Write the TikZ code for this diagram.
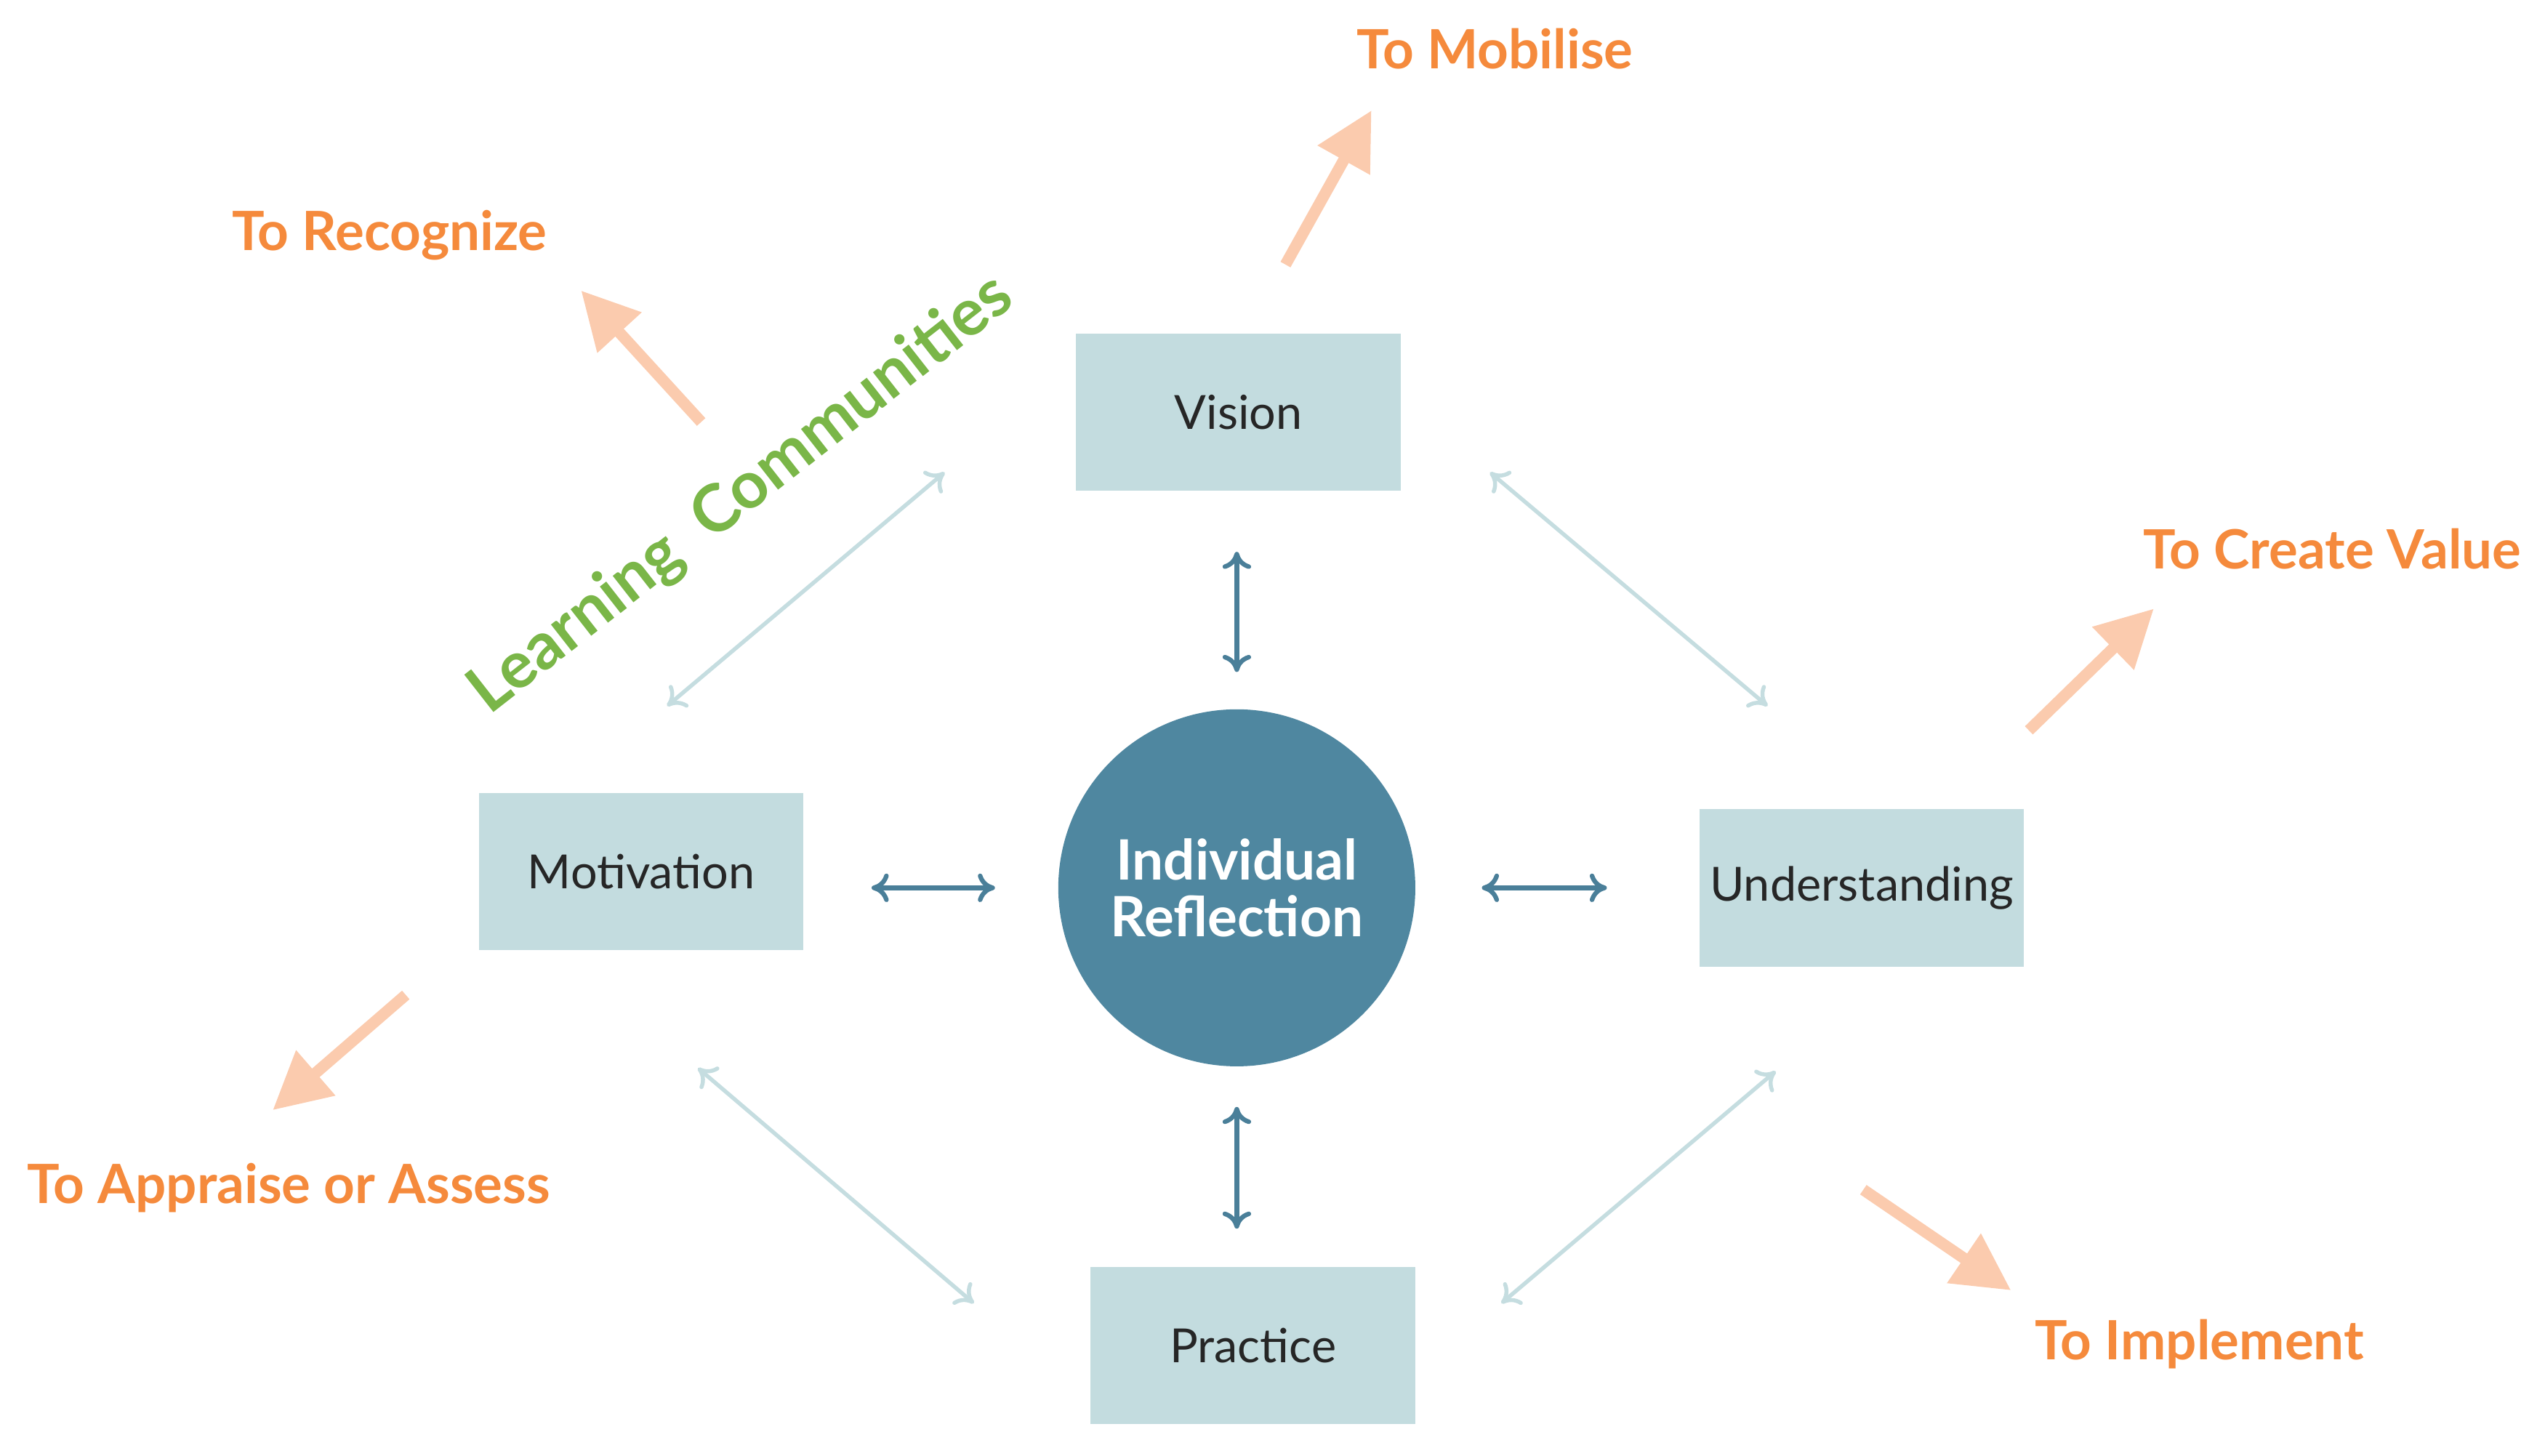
\documentclass[tikz,border=0pt]{standalone}
\usepackage{fontspec}
\setmainfont{Lato}
\usetikzlibrary{arrows.meta}
\definecolor{boxc}{HTML}{C3DCDF}
\definecolor{circc}{HTML}{4F87A0}
\definecolor{darka}{HTML}{4A7F99}
\definecolor{lighta}{HTML}{C5DDE0}
\definecolor{orar}{HTML}{FBCBAE}
\definecolor{orat}{HTML}{F58A3C}
\definecolor{grn}{HTML}{7AB648}
\begin{document}
\begin{tikzpicture}[x=0.02cm,y=-0.02cm,
 box/.style={fill=boxc,minimum width=4cm,minimum height=1.94cm,font=\fontsize{16.5}{18}\selectfont,text=black!85},
 dark/.style={draw=darka,line width=1.6pt,{To[length=6pt,width=10pt]}-{To[length=6pt,width=10pt]}},
 light/.style={draw=lighta,line width=1.4pt,{To[length=6pt,width=10pt]}-{To[length=6pt,width=10pt]}},
 oarr/.style={draw=orar,line width=4pt,-{Triangle[length=20pt,width=20pt]}},
 otext/.style={text=orat,font=\bfseries\fontsize{19}{22}\selectfont}]
\useasboundingbox (0,0) rectangle (1568,897);
\node[box] (vis) at (763,254) {Vision};
\node[box] (mot) at (395,537) {Motivation};
\node[box] (und) at (1147,547) {Understanding};
\node[box] (pra) at (772,829) {Practice};
\node[circle,fill=circc,minimum size=4.4cm,text=white,align=center,font=\bfseries\fontsize{19.5}{20}\selectfont] (ir) at (762,547) {Individual\\Reflection};
\coordinate (d1a) at (762,340); \coordinate (d1b) at (762,414);
\coordinate (d2a) at (762,682); \coordinate (d2b) at (762,757);
\coordinate (d3a) at (537,547); \coordinate (d3b) at (613,547);
\coordinate (d4a) at (913,547); \coordinate (d4b) at (990,547);
\draw[dark] (d1a) -- (d1b); \draw[dark] (d2a) -- (d2b);
\draw[dark] (d3a) -- (d3b); \draw[dark] (d4a) -- (d4b);
\coordinate (l1a) at (582,291); \coordinate (l1b) at (411,435);
\coordinate (l2a) at (918,291); \coordinate (l2b) at (1089,435);
\coordinate (l3a) at (430,658); \coordinate (l3b) at (600,803);
\coordinate (l4a) at (1094,660); \coordinate (l4b) at (925,803);
\draw[light] (l1a) -- (l1b); \draw[light] (l2a) -- (l2b);
\draw[light] (l3a) -- (l3b); \draw[light] (l4a) -- (l4b);
\coordinate (o1a) at (792,163); \coordinate (o1b) at (845,68);
\coordinate (o2a) at (432,260); \coordinate (o2b) at (358,179);
\coordinate (o3a) at (1250,450); \coordinate (o3b) at (1327,375);
\coordinate (o4a) at (250,613); \coordinate (o4b) at (168,684);
\coordinate (o5a) at (1148,733); \coordinate (o5b) at (1239,795);
\foreach \i in {1,...,5} \draw[oarr] (o\i a) -- (o\i b);
\node[otext] (t1) at (921,30) {To Mobilise};
\node[otext] (t2) at (240,145) {To Recognize};
\node[otext] (t3) at (1437,338) {To Create Value};
\node[otext] (t4) at (178,732) {To Appraise or Assess};
\node[otext] (t5) at (1355,828) {To Implement};
\node[text=grn,font=\bfseries\fontsize{23}{26}\selectfont,rotate=38] (lc) at (457,305) {Learning\ \ Communities};
\end{tikzpicture}
\end{document}
